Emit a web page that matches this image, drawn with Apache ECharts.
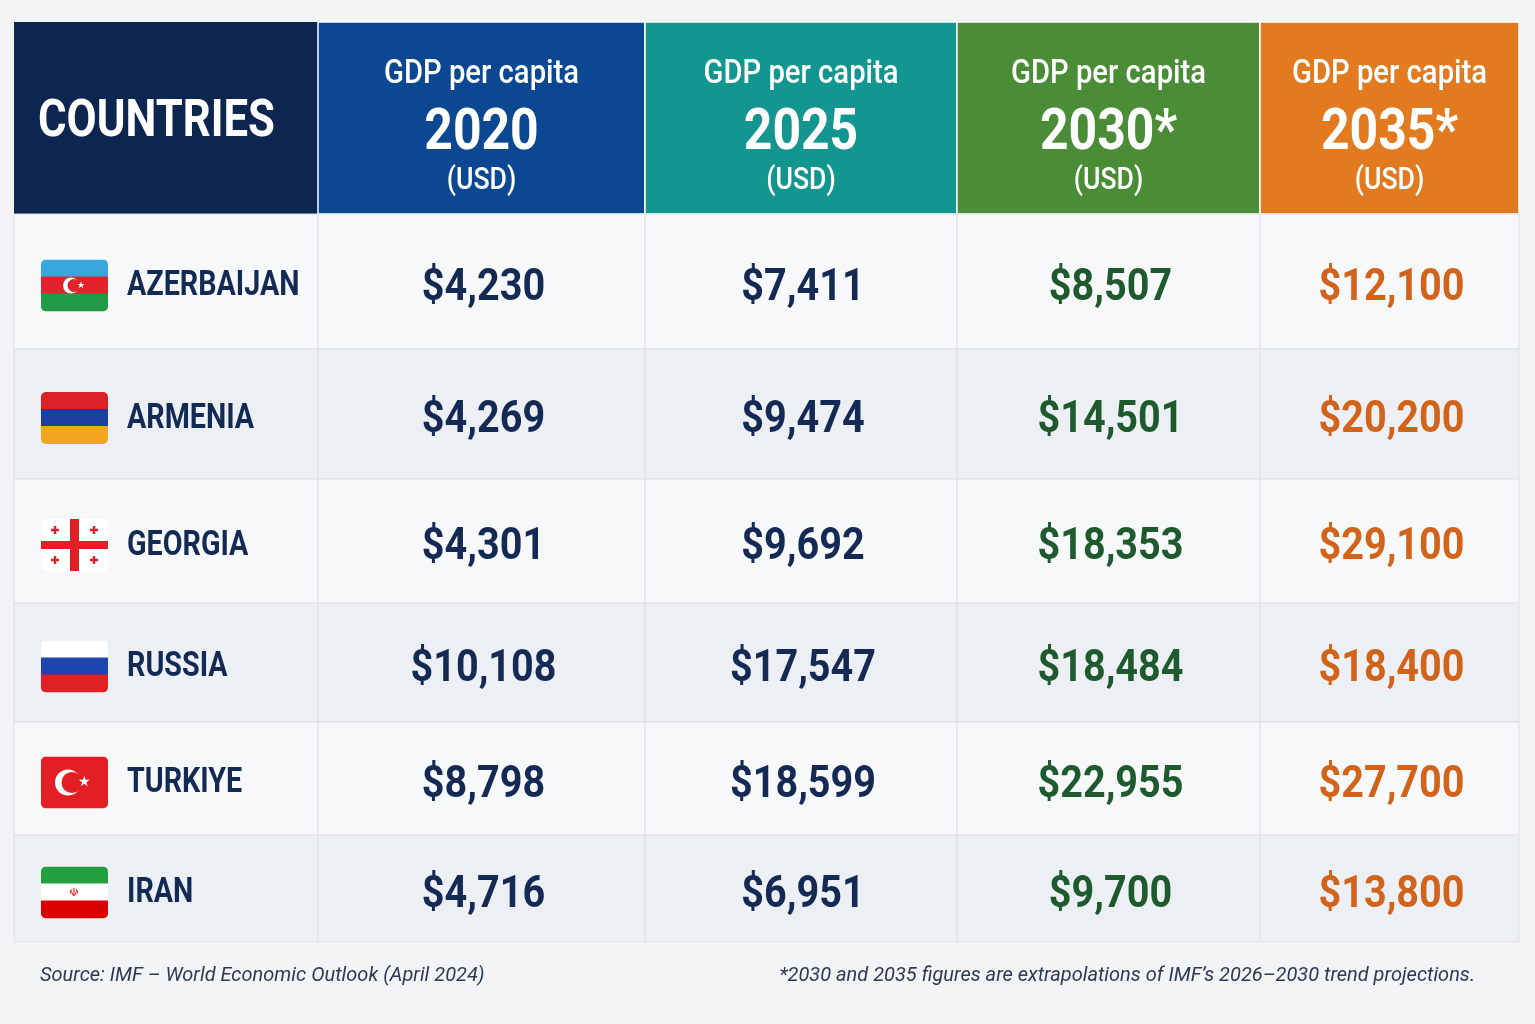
<!DOCTYPE html>
<html><head><meta charset="utf-8">
<script src="https://cdn.jsdelivr.net/npm/echarts@6/dist/echarts.min.js"></script>
<style>html,body{margin:0;padding:0;background:#f3f4f6}#c{width:1535px;height:1024px}</style>
</head><body><div id="c"></div>
<script>
const countries = ["AZERBAIJAN","ARMENIA","GEORGIA","RUSSIA","TURKIYE","IRAN"];
const years = ["2020","2025","2030*","2035*"];
const gdp2020 = [4230,4269,4301,10108,8798,4716];
const gdp2025 = [7411,9474,9692,17547,18599,6951];
const gdp2030 = [8507,14501,18353,18484,22955,9700];
const gdp2035 = [12100,20200,29100,18400,27700,13800];
const series = [gdp2020,gdp2025,gdp2030,gdp2035];

const colEdges = [14,318,645,957,1260,1519];
const rowEdges = [22,214,349,479,603,722,835,942];
const headColors = ['#0c2650','#0b4891','#13968f','#4a8d36','#e27b1f'];
const valColors = ['#142a55','#142a55','#1e5a2d','#d2631a'];
const F = 'Roboto';

const data = [];
data.push([0,-1,0]);
for (let c=0;c<4;c++) data.push([c+1,-1,0]);
for (let r=0;r<countries.length;r++){
  data.push([0,r,0]);
  for (let c=0;c<4;c++) data.push([c+1,r,series[c][r]]);
}
const fmt = v => '$' + v.toLocaleString('en-US');

function flag(name, x, y){
  const w=67,h=52;
  const R=(yy,hh,col)=>({type:'rect',shape:{x:x,y:y+yy,width:w,height:hh},style:{fill:col}});
  const clip={type:'rect',shape:{x:x,y:y,width:w,height:h,r:5}};
  let g=[];
  if(name==='AZERBAIJAN'){g=[R(0,18,'#3aa7dc'),R(17,18,'#e2232b'),R(34,18,'#219a47'),
    {type:'circle',shape:{cx:x+30,cy:y+26,r:8},style:{fill:'#fff'}},
    {type:'circle',shape:{cx:x+33,cy:y+26,r:6.5},style:{fill:'#e2232b'}},
    {type:'text',style:{x:x+40,y:y+26,text:'★',fill:'#fff',fontSize:9,align:'center',verticalAlign:'middle'}}];}
  else if(name==='ARMENIA'){g=[R(0,18,'#db2128'),R(17,18,'#1f3fa0'),R(34,18,'#f2a51e')];}
  else if(name==='GEORGIA'){g=[R(0,52,'#ffffff'),
    {type:'rect',shape:{x:x+29,y:y,width:9,height:h},style:{fill:'#e21f26'}},
    {type:'rect',shape:{x:x,y:y+22,width:w,height:8},style:{fill:'#e21f26'}}];
    [[14,11],[53,11],[14,41],[53,41]].forEach(p=>{
      g.push({type:'rect',shape:{x:x+p[0]-4,y:y+p[1]-1.2,width:8,height:2.4},style:{fill:'#e21f26'}});
      g.push({type:'rect',shape:{x:x+p[0]-1.2,y:y+p[1]-4,width:2.4,height:8},style:{fill:'#e21f26'}});});}
  else if(name==='RUSSIA'){g=[R(0,18,'#ffffff'),R(17,18,'#1c45b0'),R(34,18,'#df2126')];}
  else if(name==='TURKIYE'){g=[R(0,52,'#e31e24'),
    {type:'circle',shape:{cx:x+27,cy:y+26,r:13},style:{fill:'#fff'}},
    {type:'circle',shape:{cx:x+31,cy:y+26,r:10.5},style:{fill:'#e31e24'}},
    {type:'text',style:{x:x+43,y:y+26,text:'★',fill:'#fff',fontSize:14,align:'center',verticalAlign:'middle'}}];}
  else if(name==='IRAN'){g=[R(0,18,'#239f40'),R(17,18,'#ffffff'),R(34,18,'#da0000'),
    {type:'text',style:{x:x+33,y:y+26,text:'☫',fill:'#da0000',fontSize:11,align:'center',verticalAlign:'middle'}}];}
  return {type:'group',children:g,clipPath:clip};
}

function renderItem(params, api){
  const c=api.value(0), r=api.value(1), v=api.value(2);
  const x0=colEdges[c], x1=colEdges[c+1];
  const y0=rowEdges[r+1], y1=rowEdges[r+2];
  const cx=(x0+x1)/2, cy=(y0+y1)/2+5;
  const ch=[];
  if(r===-1){
    ch.push({type:'rect',shape:{x:x0,y:y0,width:x1-x0,height:y1-y0},style:{fill:headColors[c],stroke:'#ffffff',lineWidth:c?1.5:0}});
    if(c===0){
      ch.push({type:'text',x:x0+24,y:cy,scaleX:0.84,style:{x:0,y:0,text:'COUNTRIES',fill:'#fff',font:'bold 52px '+F,verticalAlign:'middle'}});
    } else {
      ch.push({type:'text',x:cx,y:y0+52,scaleX:0.86,style:{x:0,y:0,text:'GDP per capita',fill:'#fff',font:'500 34px '+F,align:'center',verticalAlign:'middle'}});
      ch.push({type:'text',x:cx,y:y0+112,scaleX:0.86,style:{x:0,y:0,text:years[c-1],fill:'#fff',font:'bold 58px '+F,align:'center',verticalAlign:'middle'}});
      ch.push({type:'text',x:cx,y:y0+159,scaleX:0.86,style:{x:0,y:0,text:'(USD)',fill:'#fff',font:'500 31px '+F,align:'center',verticalAlign:'middle'}});
    }
  } else {
    ch.push({type:'rect',shape:{x:x0,y:y0,width:x1-x0,height:y1-y0},style:{fill:r%2?'#eceff3':'#f7f8fa',stroke:'#dde1e7',lineWidth:1}});
    if(c===0){
      ch.push(flag(countries[r],41,cy-27));
      ch.push({type:'text',x:127,y:cy,scaleX:0.82,style:{x:0,y:0,text:countries[r],fill:'#132a55',font:'bold 35px '+F,verticalAlign:'middle'}});
    } else {
      ch.push({type:'text',x:cx+2,y:cy+2,scaleX:0.88,style:{x:0,y:0,text:fmt(v),fill:valColors[c-1],font:'bold 45px '+F,align:'center',verticalAlign:'middle'}});
    }
  }
  return {type:'group',children:ch};
}

const chart = echarts.init(document.getElementById('c'));
chart.setOption({
  backgroundColor:'#f3f4f6',
  animation:false,
  xAxis:{type:'value',show:false,min:0,max:5},
  yAxis:{type:'value',show:false,min:-1,max:6},
  grid:{left:14,right:16,top:22,bottom:82},
  series:[{type:'custom',renderItem:renderItem,data:data,silent:true}],
  graphic:[
    {type:'text',left:40,top:966,style:{text:'Source: IMF – World Economic Outlook (April 2024)',fill:'#2c3a55',font:'italic 20px '+F}},
    {type:'text',right:60,top:966,style:{text:'*2030 and 2035 figures are extrapolations of IMF’s 2026–2030 trend projections.',fill:'#2c3a55',font:'italic 20px '+F}}
  ]
});
</script></body></html>
